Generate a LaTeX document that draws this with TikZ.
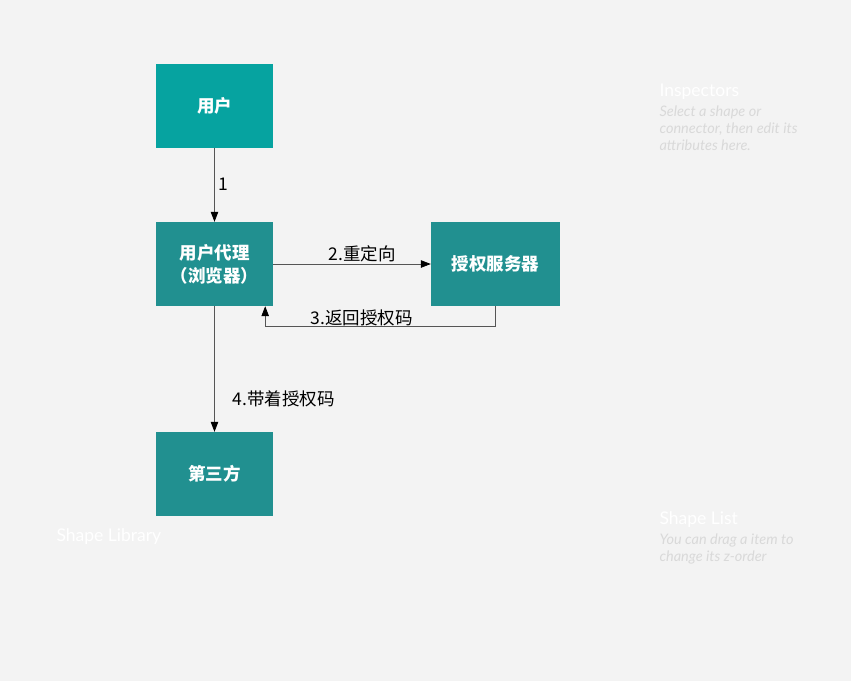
\documentclass[tikz,border=0pt]{standalone}
\usepackage{fontspec}
\setmainfont{Lato}
\newfontfamily\cjk{Noto Sans CJK SC}
\usepackage{tikz}
\usetikzlibrary{arrows.meta, positioning}
\definecolor{canvasbg}{HTML}{F3F3F3}
\definecolor{userteal}{HTML}{06A3A0}
\definecolor{boxteal}{HTML}{219090}
\definecolor{linegray}{HTML}{555555}
\definecolor{hintgray}{HTML}{D9D9D9}

\begin{document}
\begin{tikzpicture}[x=1pt, y=-1pt,
    box/.style={rectangle, fill=boxteal, minimum width=117pt, minimum height=84pt, align=center, text=white, font=\cjk\bfseries\fontsize{17.5}{23}\selectfont},
    arrow/.style={-{Triangle[length=10pt, width=7.5pt, color=black]}, draw=linegray, line width=0.8pt},
    lbl/.style={font=\cjk\fontsize{17.5}{21}\selectfont, text=black, inner sep=2pt},
    paneltitle/.style={anchor=west, text=white, font=\fontsize{17.5}{20}\selectfont},
    panelhint/.style={anchor=north west, align=left, text=hintgray, font=\itshape\fontsize{14.5}{17}\selectfont}
]

\fill[canvasbg] (0,0) rectangle (851,681);
\useasboundingbox (0,0) rectangle (851,681);

\node[box, fill=userteal] (user) at (214.5,105.5) {用户};
\node[box] (agent) at (214.5,264) {用户代理\\（浏览器）};
\node[box, minimum width=129pt] (authsrv) at (495.5,264) {授权服务器};
\node[box] (third) at (214.5,474) {第三方};

\draw[arrow] (user) -- node[lbl, right, xshift=2pt] {1} (agent);
\draw[arrow] (agent) -- node[lbl, above, xshift=10pt] {2.重定向} (authsrv);
\draw[arrow] (authsrv.south) -- ++(0,20) -| node[lbl, above, pos=0.29, inner sep=0pt] {3.返回授权码} ([xshift=-8pt]agent.south east);
\draw[arrow] (agent) -- node[lbl, right, pos=0.74, xshift=16pt] {4.带着授权码} (third);

% side panels
\node[paneltitle] (insptitle) at (656,92) {Inspectors};
\node[panelhint] (insphint) at (656,102) {Select a shape or\\connector, then edit its\\attributes here.};
\node[paneltitle] (libtitle) at (53,537) {Shape Library};
\node[paneltitle] (listtitle) at (656,520) {Shape List};
\node[panelhint] (listhint) at (656,530) {You can drag a item to\\change its z-order};

\end{tikzpicture}
\end{document}
